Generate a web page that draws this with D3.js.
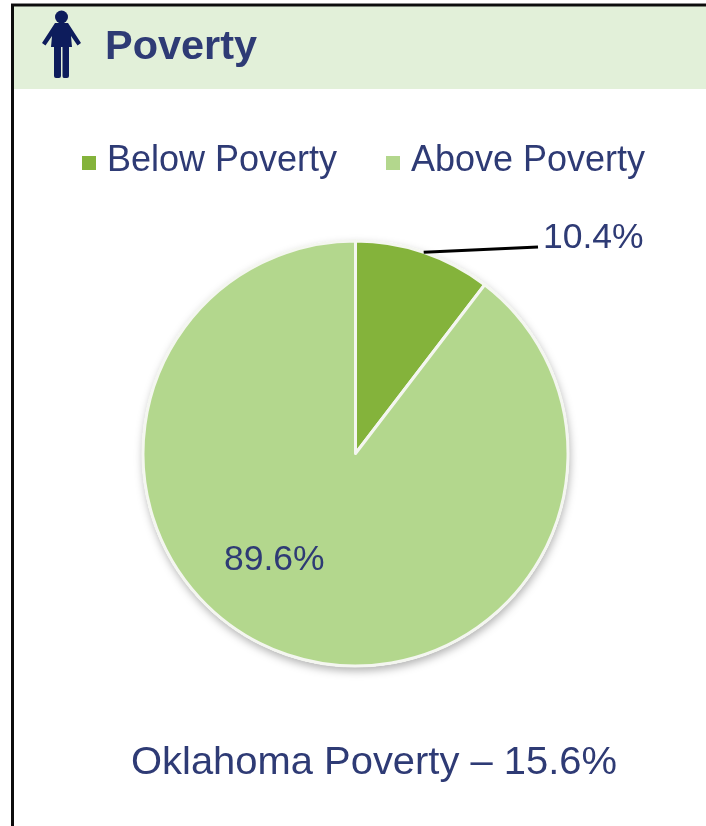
<!DOCTYPE html>
<html lang="en">
<head>
<meta charset="utf-8">
<title>Poverty</title>
<script src="https://cdn.jsdelivr.net/npm/d3@7"></script>
<style>
  html, body { margin: 0; padding: 0; background: #fff; }
  svg { display: block; }
  text { font-family: "Liberation Sans", Arial, sans-serif; fill: #2f3a74; }
</style>
</head>
<body>
<div id="chart"></div>
<script>
var categories = ['Below Poverty', 'Above Poverty'];
var values = [10.4, 89.6];
var colors = ['#84b33a', '#b3d78d'];
var title = 'Poverty';
var footer = 'Oklahoma Poverty \u2013 15.6%';

var width = 706, height = 826;
var cx = 355.5, cy = 453.5, radius = 212.5;

var root = d3.select('#chart').append('svg')
  .attr('width', width)
  .attr('height', height);

var defs = root.append('defs');
var shadow = defs.append('filter').attr('id', 'shadow')
  .attr('x', '-10%').attr('y', '-10%').attr('width', '120%').attr('height', '120%');
shadow.append('feDropShadow')
  .attr('dx', 1).attr('dy', 4).attr('stdDeviation', 4)
  .attr('flood-color', '#000').attr('flood-opacity', 0.3);
// the reference is a slightly soft screenshot
var soft = defs.append('filter').attr('id', 'soft')
  .attr('filterUnits', 'userSpaceOnUse')
  .attr('x', 0).attr('y', 0).attr('width', width).attr('height', height);
soft.append('feGaussianBlur').attr('stdDeviation', 0.6);

var svg = root.append('g').attr('filter', 'url(#soft)');

// header band and frame
svg.append('rect').attr('x', 13).attr('y', 5).attr('width', width - 13).attr('height', 84).attr('fill', '#e2f0d9');
svg.append('path').attr('d', 'M12.5,826V5H706').attr('fill', 'none').attr('stroke', '#111').attr('stroke-width', 3);

// person icon
var icon = svg.append('g').attr('fill', '#101c5c');
icon.append('circle').attr('cx', 61.5).attr('cy', 17).attr('r', 6.5);
icon.append('path').attr('d', 'M55,23H68L81,43L77.5,45.5L71,36L72,47H69V76Q69,78 67,78H64Q62.5,78 62.5,76V47H61V76Q61,78 59,78H56Q54,78 54,76V47H51L52,36L45.5,45.5L42,43Z');

svg.append('text')
  .attr('x', 105).attr('y', 59)
  .attr('font-size', 40).attr('font-weight', 700)
  .attr('textLength', 152)
  .attr('lengthAdjust', 'spacingAndGlyphs')
  .text(title);

// legend
var legendX = d3.scaleOrdinal().domain(categories).range([82, 386]);
var legend = svg.selectAll('g.legend').data(categories).enter().append('g')
  .attr('class', 'legend')
  .attr('transform', function(d) { return 'translate(' + legendX(d) + ',0)'; });
legend.append('rect')
  .attr('y', 156).attr('width', 14).attr('height', 14)
  .attr('fill', function(d, i) { return colors[i]; });
legend.append('text')
  .attr('x', 25).attr('y', 171)
  .attr('font-size', 36)
  .attr('textLength', function(d, i) { return i === 0 ? 230 : 234; })
  .attr('lengthAdjust', 'spacingAndGlyphs')
  .text(function(d) { return d; });

// pie
var pie = d3.pie().sort(null);
var arc = d3.arc().innerRadius(0).outerRadius(radius);
var arcs = pie(values);

var plot = svg.append('g').attr('transform', 'translate(' + cx + ',' + cy + ')');
plot.append('circle').attr('r', radius + 1).attr('fill', '#fff').attr('filter', 'url(#shadow)');
plot.selectAll('path.slice').data(arcs).enter().append('path')
  .attr('class', 'slice')
  .attr('d', arc)
  .attr('fill', function(d, i) { return colors[i]; })
  .attr('stroke', '#f4f6f0')
  .attr('stroke-width', 3)
  .attr('stroke-linejoin', 'round');

// leader line from the edge of the small slice
var edge = d3.arc().innerRadius(radius).outerRadius(radius).centroid(arcs[0]);
svg.append('line')
  .attr('x1', cx + edge[0]).attr('y1', cy + edge[1])
  .attr('x2', 538).attr('y2', 247)
  .attr('stroke', '#000').attr('stroke-width', 3);

svg.append('text').attr('x', 543).attr('y', 248).attr('font-size', 35.5).text(values[0].toFixed(1) + '%');
svg.append('text').attr('x', 224).attr('y', 570).attr('font-size', 35.5).text(values[1].toFixed(1) + '%');

svg.append('text')
  .attr('x', 131).attr('y', 774)
  .attr('font-size', 39)
  .attr('textLength', 486)
  .attr('lengthAdjust', 'spacingAndGlyphs')
  .text(footer);
</script>
</body>
</html>
